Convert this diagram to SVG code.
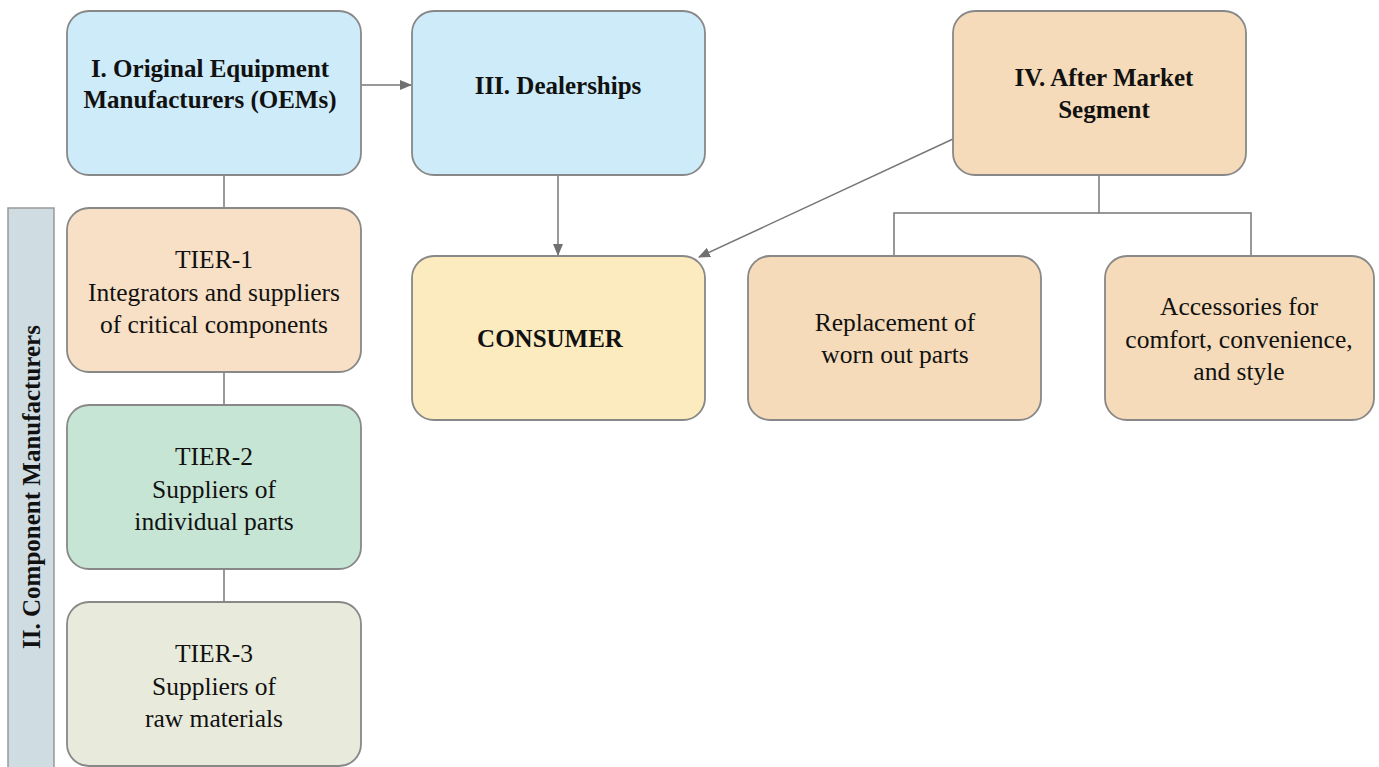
<svg xmlns="http://www.w3.org/2000/svg" width="1379" height="767" viewBox="0 0 1379 767">
<defs>
<marker id="arr" markerWidth="12" markerHeight="10" refX="11" refY="5" orient="auto" markerUnits="userSpaceOnUse">
<path d="M0,0 L12,5 L0,10 z" fill="#707070"/>
</marker>
<style>
.box{stroke:#888;stroke-width:1.8}
.t{font-family:'Liberation Serif','DejaVu Serif',serif;font-size:25.5px;fill:#111;text-anchor:middle}
.b{font-weight:bold;font-size:25px}
.c{stroke:#777;stroke-width:1.5;fill:none}
</style>
</defs>
<rect width="1379" height="767" fill="#fff"/>
<g id="connectors">
<line class="c" x1="361" y1="85" x2="411" y2="85" marker-end="url(#arr)"/>
<line class="c" x1="224" y1="175" x2="224" y2="208"/>
<line class="c" x1="224" y1="372" x2="224" y2="405"/>
<line class="c" x1="224" y1="569" x2="224" y2="602"/>
<line class="c" x1="558" y1="175" x2="558" y2="255" marker-end="url(#arr)"/>
<line class="c" x1="953" y1="139" x2="699" y2="257" marker-end="url(#arr)"/>
<polyline class="c" points="1099,175 1099,213"/>
<polyline class="c" points="894,256 894,213 1251,213 1251,256"/>
</g>
<g id="sidebar">
<rect x="8" y="208" width="46" height="570" fill="#cfdce2" stroke="#999" stroke-width="1.5"/>
<text class="t b" font-family="Liberation Serif" font-size="26" transform="translate(40,487) rotate(-90)">II. Component Manufacturers</text>
</g>
<g id="oem">
<rect class="box" x="67" y="11" width="294" height="164" rx="22" fill="#cdebf8"/>
<text class="t b" font-family="Liberation Serif" x="210" y="77">I. Original Equipment</text>
<text class="t b" font-family="Liberation Serif" x="210" y="108">Manufacturers (OEMs)</text>
</g>
<g id="dealerships">
<rect class="box" x="412" y="11" width="293" height="164" rx="22" fill="#cdebf8"/>
<text class="t b" font-family="Liberation Serif" x="558" y="94">III. Dealerships</text>
</g>
<g id="aftermarket">
<rect class="box" x="953" y="11" width="293" height="164" rx="22" fill="#f5dbb9"/>
<text class="t b" font-family="Liberation Serif" x="1104" y="86">IV. After Market</text>
<text class="t b" font-family="Liberation Serif" x="1104" y="118">Segment</text>
</g>
<g id="tier1">
<rect class="box" x="67" y="208" width="294" height="164" rx="22" fill="#f8e0c6"/>
<text class="t" font-family="Liberation Serif" x="214" y="268">TIER-1</text>
<text class="t" font-family="Liberation Serif" x="214" y="301">Integrators and suppliers</text>
<text class="t" font-family="Liberation Serif" x="214" y="333">of critical components</text>
</g>
<g id="tier2">
<rect class="box" x="67" y="405" width="294" height="164" rx="22" fill="#c7e5d4"/>
<text class="t" font-family="Liberation Serif" x="214" y="465">TIER-2</text>
<text class="t" font-family="Liberation Serif" x="214" y="498">Suppliers of</text>
<text class="t" font-family="Liberation Serif" x="214" y="530">individual parts</text>
</g>
<g id="tier3">
<rect class="box" x="67" y="602" width="294" height="164" rx="22" fill="#e8ebdc"/>
<text class="t" font-family="Liberation Serif" x="214" y="662">TIER-3</text>
<text class="t" font-family="Liberation Serif" x="214" y="695">Suppliers of</text>
<text class="t" font-family="Liberation Serif" x="214" y="727">raw materials</text>
</g>
<g id="consumer">
<rect class="box" x="412" y="256" width="293" height="164" rx="22" fill="#fdebc0"/>
<text class="t b" font-family="Liberation Serif" x="550" y="347">CONSUMER</text>
</g>
<g id="replacement">
<rect class="box" x="748" y="256" width="293" height="164" rx="22" fill="#f5dbb9"/>
<text class="t" font-family="Liberation Serif" x="895" y="331">Replacement of</text>
<text class="t" font-family="Liberation Serif" x="895" y="363">worn out parts</text>
</g>
<g id="accessories">
<rect class="box" x="1105" y="256" width="269" height="164" rx="22" fill="#f5dbb9"/>
<text class="t" font-family="Liberation Serif" x="1239" y="315">Accessories for</text>
<text class="t" font-family="Liberation Serif" x="1239" y="348">comfort, convenience,</text>
<text class="t" font-family="Liberation Serif" x="1239" y="380">and style</text>
</g>
</svg>
